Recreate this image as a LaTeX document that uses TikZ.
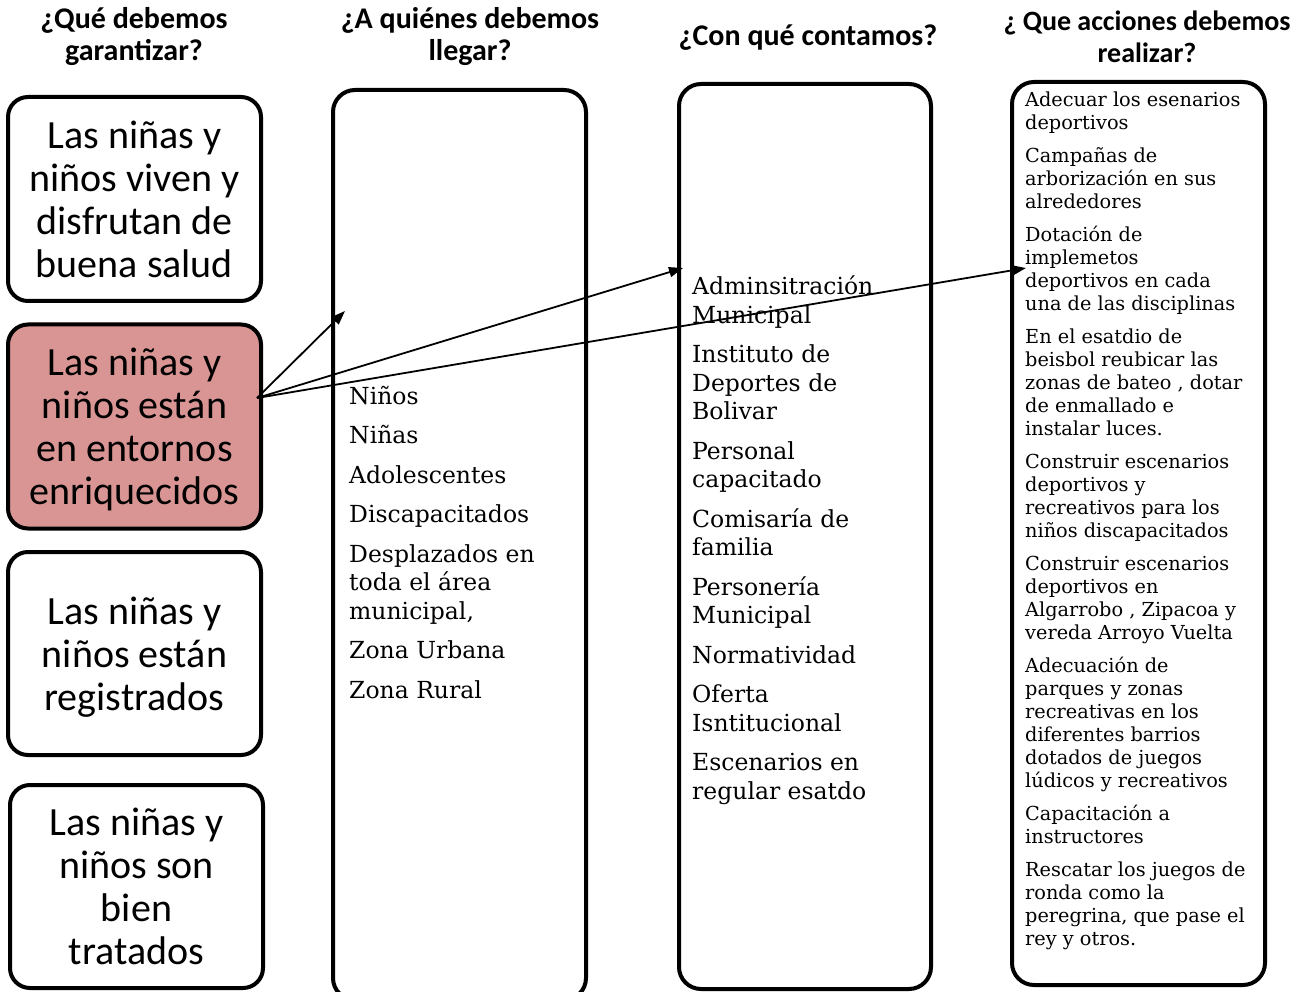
\documentclass[tikz,border=0pt]{standalone}
\usepackage{fontspec}
\setmainfont{Carlito}
\newfontfamily\colfont{DejaVu Serif}
\usetikzlibrary{arrows.meta}
\definecolor{boxpink}{HTML}{D99594}
\newcommand{\nodepth}[1]{\raisebox{0pt}[\height][0pt]{#1}}
\tikzset{
  goal/.style={draw, line width=4pt, rounded corners=20pt, minimum width=253pt,
    minimum height=204pt, align=center, inner sep=0pt,
    font=\fontsize{40}{43}\selectfont},
  colbox/.style={draw, line width=4pt, rounded corners=22pt, inner sep=0pt},
  head/.style={align=center, inner sep=0pt, font=\bfseries\fontsize{30}{32.5}\selectfont},
  lnk/.style={line width=1.8pt, -{Triangle[length=14pt,width=10pt]}},
  items/.style={anchor=base west, inner sep=0pt}
}
\begin{document}
\begin{tikzpicture}[x=1pt,y=-1pt]
\useasboundingbox (0,0) rectangle (1299,992);
\fill[white] (0,0) rectangle (1299,992);
\begin{scope}
\clip (0,0) rectangle (1299,992);
% headers
\node[head] (h1) at (134,36.5) {¿Qué debemos\\garantizar?};
\node[head] (h2) at (470,36.5) {¿A quiénes debemos\\llegar?};
\node[head] (h3) at (808,38) {¿Con qué contamos?};
\node[head, font=\bfseries\fontsize{28}{32.5}\selectfont] (h4) at (1147,37) {¿ Que acciones debemos\\realizar?};
% goal boxes
\node[goal] (g1) at (134.5,199) {Las niñas y\\niños viven y\\disfrutan de\\buena salud};
\node[goal, fill=boxpink] (g2) at (134.5,426.5) {Las niñas y\\niños están\\en entornos\\\nodepth{enriquecidos}};
\node[goal, minimum height=203pt] (g3) at (134.5,653.5) {Las niñas y\\niños están\\\nodepth{registrados}};
\node[goal, minimum height=203pt] (g4) at (136.5,886.5) {Las niñas y\\niños son\\bien\\tratados};
% column boxes
\node[colbox, minimum width=253pt, minimum height=910pt] (c2) at (459.5,545) {};
\node[colbox, minimum width=252pt, minimum height=905pt] (c3) at (805,536.5) {};
\node[colbox, minimum width=253pt, minimum height=903pt] (c4) at (1138.5,533.5) {};
% column texts
\node[items] (t2) at (349,404) {\parbox[t]{230pt}{\raggedright\colfont\fontsize{23.5}{28.5}\selectfont\setlength\parskip{11pt}%
Niños\par
Niñas\par
Adolescentes\par
Discapacitados\par
Desplazados en\\toda el área\\municipal,\par
Zona Urbana\par
Zona Rural}};
\node[items] (t3) at (692,295) {\parbox[t]{230pt}{\raggedright\colfont\fontsize{23.5}{28.5}\selectfont\setlength\parskip{11pt}%
Adminsitración\\Municipal\par
Instituto de\\Deportes de\\Bolivar\par
Personal\\capacitado\par
Comisaría de\\familia\par
Personería\\Municipal\par
Normatividad\par
Oferta\\Isntitucional\par
Escenarios en\\regular esatdo}};
\node[items] (t4) at (1025,107) {\parbox[t]{240pt}{\raggedright\colfont\fontsize{19.3}{23}\selectfont\setlength\parskip{10pt}%
Adecuar los esenarios\\deportivos\par
Campañas de\\arborización en sus\\alrededores\par
Dotación de\\implemetos\\deportivos  en cada\\una de las disciplinas\par
En el esatdio de\\beisbol  reubicar las\\zonas de bateo , dotar\\de enmallado e\\instalar luces.\par
Construir escenarios\\deportivos y\\recreativos  para los\\niños  discapacitados\par
Construir escenarios\\deportivos en\\Algarrobo ,  Zipacoa y\\vereda Arroyo Vuelta\par
Adecuación de\\parques y zonas\\recreativas en los\\diferentes barrios\\dotados de juegos\\lúdicos  y recreativos\par
Capacitación a\\instructores\par
Rescatar  los juegos de\\ronda como la\\peregrina,  que pase el\\rey y  otros.}};
% arrows
\coordinate (src) at (257,398);
\coordinate (a1) at (345,311);
\coordinate (a2) at (683,268);
\coordinate (a3) at (1026,268);
\draw[lnk] (src) -- (a1);
\draw[lnk] (src) -- (a2);
\draw[lnk] (src) -- (a3);
\end{scope}
\end{tikzpicture}
\end{document}
